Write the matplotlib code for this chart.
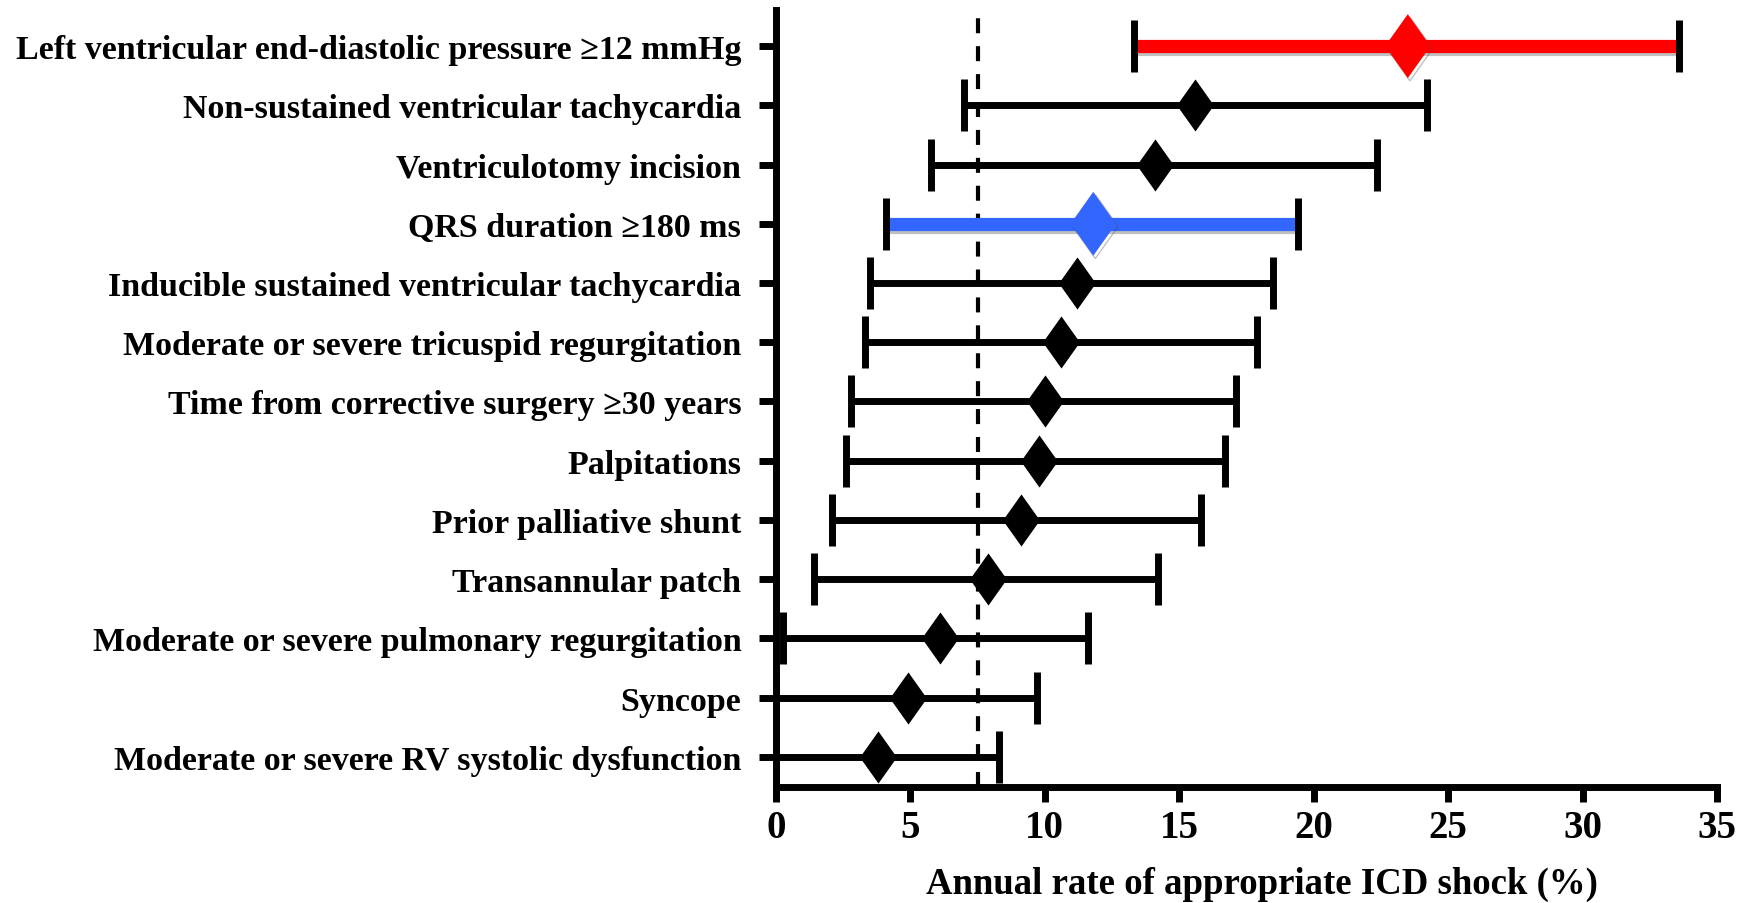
import matplotlib
matplotlib.use("Agg")
import matplotlib.pyplot as plt
import matplotlib.patheffects as pe

# risk factors, listed top to bottom
factors = [
    "Left ventricular end-diastolic pressure \u226512 mmHg",
    "Non-sustained ventricular tachycardia",
    "Ventriculotomy incision",
    "QRS duration \u2265180 ms",
    "Inducible sustained ventricular tachycardia",
    "Moderate or severe tricuspid regurgitation",
    "Time from corrective surgery \u226530 years",
    "Palpitations",
    "Prior palliative shunt",
    "Transannular patch",
    "Moderate or severe pulmonary regurgitation",
    "Syncope",
    "Moderate or severe RV systolic dysfunction",
]
# annual shock rate (%) and its confidence interval
rate = [23.5, 15.6, 14.1, 11.8, 11.2, 10.6, 10.0, 9.8, 9.1, 7.9, 6.1, 4.9, 3.8]
ci_low = [13.3, 7.0, 5.75, 4.1, 3.5, 3.3, 2.8, 2.6, 2.1, 1.4, 0.25, 0.0, 0.0]
ci_high = [33.6, 24.2, 22.35, 19.4, 18.5, 17.9, 17.1, 16.7, 15.8, 14.2, 11.6, 9.7, 8.3]
# rows drawn in colour
row_colors = {0: "#ff0000", 3: "#3366ff"}
overall_rate = 7.5
xticks = [0, 5, 10, 15, 20, 25, 30, 35]

plt.rcParams["font.family"] = ["Liberation Serif", "DejaVu Serif"]
plt.rcParams["font.weight"] = "bold"

W, H = 1752, 904
fig = plt.figure(figsize=(W / 100, H / 100), dpi=100)
ax = fig.add_axes([776 / W, 1 - 788 / H, (1717 - 776) / W, (788 - 11) / H])

n = len(factors)
ypos = [n - 1 - i for i in range(n)]
tall_diamond = [(0, 1), (0.71, 0), (0, -1), (-0.71, 0)]
shadow = [pe.SimpleLineShadow(offset=(1.5, -2), shadow_color="0.3", alpha=0.35), pe.Normal()]

ax.axvline(overall_rate, color="black", lw=3, dashes=(3.6, 3.1), zorder=1)

for i, y in enumerate(ypos):
    col = row_colors.get(i, "black")
    big = i in row_colors
    ax.plot([ci_low[i], ci_high[i]], [y, y], color=col,
            lw=9.5 if big else 5, solid_capstyle="butt", zorder=2,
            path_effects=shadow if big else None)
    ax.plot([ci_low[i], ci_high[i]], [y, y], linestyle="none", marker="|",
            markersize=38, mew=5, color="black", zorder=3)
    ax.plot(rate[i], y, linestyle="none", marker=tall_diamond,
            markersize=46 if big else 37.5, color=col, mec="none", zorder=4,
            path_effects=shadow if big else None)

ax.set_xlim(0, 35)
ax.set_ylim(-0.51, 12.61)
ax.set_xticks(xticks)
ax.set_yticks(ypos)
ax.set_yticklabels(factors)

for s in ["top", "right"]:
    ax.spines[s].set_visible(False)
for s in ["left", "bottom"]:
    ax.spines[s].set_linewidth(5)

ax.tick_params(axis="x", length=11, width=5, pad=5, labelsize=28)
ax.tick_params(axis="y", length=12, width=5, pad=13, labelsize=24.5)
for lab in ax.get_xticklabels() + ax.get_yticklabels():
    lab.set_fontweight("bold")

ax.set_xlabel("Annual rate of appropriate ICD shock (%)", fontsize=26.5,
              fontweight="bold", labelpad=14, x=0.516)

fig.savefig("out.png", dpi=100)
